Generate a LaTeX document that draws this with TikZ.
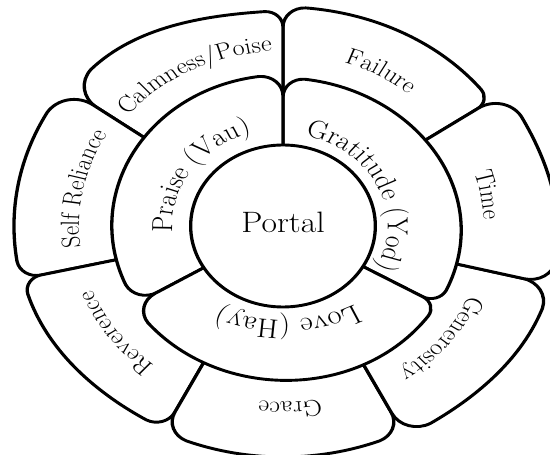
\documentclass[tikz,border=0pt]{standalone}
\usetikzlibrary{calc,decorations.text}
\newcommand\outerfont{\fontsize{23}{27}\selectfont}
\newcommand\midfont{\fontsize{25.5}{30}\selectfont}
\newcommand\lovefont{\fontsize{27}{31}\selectfont}
\tikzset{
  shapeline/.style={draw=black, fill=white, line width=2.9pt, line join=round},
}
% #1 a1, #2 a2, #3 R at a1, #4 R at a2, #5 corner at a1, #6 corner at a2
\newcommand\lobe[6]{%
  \pgfmathsetmacro\LBa{#1+#5/#3*57.2958}%
  \pgfmathsetmacro\LBb{#2-#6/#4*57.2958}%
  \pgfmathsetmacro\LBs{\LBb-\LBa}%
  \pgfmathsetmacro\LBk{4/3*tan(\LBs/4)}%
  \pgfmathsetmacro\LBf{sqrt(1+\LBk*\LBk)}%
  \pgfmathsetmacro\LBt{atan(\LBk)}%
  \pgfmathsetmacro\LBm{\LBa+\LBt}%
  \pgfmathsetmacro\LBn{\LBb-\LBt}%
  \path[shapeline] (0,0) -- ({#1}:{#3-#5})
    .. controls ($({#1}:{#3-#5})!0.55!({#1}:{#3})$) and ($({\LBa}:{#3})!0.55!({#1}:{#3})$) .. ({\LBa}:{#3})
    .. controls ({\LBm}:{#3*\LBf}) and ({\LBn}:{#4*\LBf}) .. ({\LBb}:{#4})
    .. controls ($({\LBb}:{#4})!0.55!({#2}:{#4})$) and ($({#2}:{#4-#6})!0.55!({#2}:{#4})$) .. ({#2}:{#4-#6})
    -- cycle;
}
% #1 centre angle, #2 radius, #3 half span, #4 font, #5 text
\newcommand\arclabel[5]{%
  \path[decorate, decoration={text along path, text={|#4|#5}, text align=center}]
    ({#1+#3}:{#2}) arc[start angle={#1+#3}, end angle={#1-#3}, radius={#2}];
}
\begin{document}
\begin{tikzpicture}[x=1pt,y=1pt]
\useasboundingbox (0,0) rectangle (550,455);
\begin{scope}[transform canvas={shift={(283pt,229pt)},xscale=1.14}]
  % outer petals
  \lobe{34.5}{90}{221}{219}{14}{20}   % Failure
  \lobe{90}{144}{215}{230}{16}{28}    % Calmness/Poise
  \lobe{144}{193}{236}{236}{30}{18}   % Self Reliance
  \lobe{193}{243}{234}{228}{16}{19}   % Reverence
  \lobe{243}{297}{231}{231}{22}{22}   % Grace
  \lobe{297}{346}{236}{242}{26}{25}   % Generosity
  \lobe{346}{394.5}{242}{236}{24}{28} % Time
  % middle ring
  \lobe{-30}{90}{157}{148}{16}{19}    % Gratitude
  \lobe{90}{211}{151}{150}{21}{21}    % Praise
  \lobe{211}{330}{153}{156}{22}{14}   % Love
  % centre
  \path[shapeline] (0,0) circle[radius=81];
  \node[font=\fontsize{29.5}{34}\selectfont, inner sep=0pt] (portal) at (0,4) {Portal};
  % outer labels
  \arclabel{117}{175}{40}{\outerfont}{Calmness/Poise}
  \arclabel{61}{172}{30}{\outerfont}{Failure}
  \arclabel{10}{176}{30}{\outerfont}{Time}
  \arclabel{-39}{178}{35}{\outerfont}{Generosity}
  \arclabel{-88}{176}{30}{\outerfont}{Grace}
  \arclabel{216}{179}{35}{\outerfont}{Reverence}
  \arclabel{168}{179}{35}{\outerfont}{Self Reliance}
  % middle labels
  \arclabel{145}{97}{65}{\midfont}{Praise (Vau)}
  \arclabel{25.5}{92}{70}{\midfont}{Gratitude (Yod)}
  \path[decorate, decoration={text along path, text={|\lovefont|Love (Hay)}, text align=center}]
    ($(0,40)+(-35:134)$) arc[start angle=-35, end angle=-141, radius=134];
\end{scope}
\end{tikzpicture}
\end{document}
